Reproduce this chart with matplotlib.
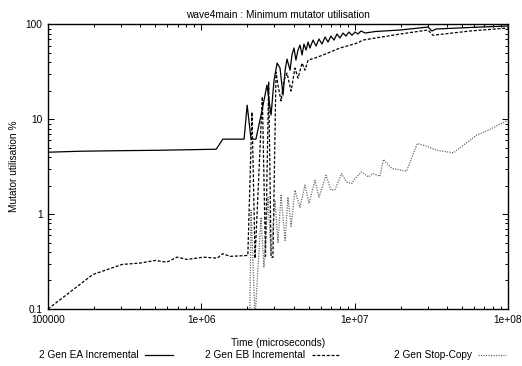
"""
wave4main minimum mutator utilisation, three collector configurations
"""

import matplotlib
matplotlib.use("Agg")
import matplotlib.pyplot as plt
from matplotlib.lines import Line2D
from matplotlib.ticker import LogLocator, FixedLocator, FixedFormatter, NullFormatter

FS = 7.3
plt.rcParams["font.family"] = ["Liberation Sans", "DejaVu Sans"]
plt.rcParams["font.size"] = FS

# time window (microseconds) -> minimum mutator utilisation (%)
ea_time = [1.0e5, 1.62e5, 2.95e5, 5.37e5, 1.25e6, 1.38e6, 1.90e6, 1.99e6, 2.11e6, 2.27e6,
           2.49e6, 2.68e6, 2.85e6, 2.98e6, 3.12e6, 3.26e6, 3.41e6, 3.52e6, 3.62e6, 3.79e6,
           3.90e6, 4.02e6, 4.14e6, 4.27e6, 4.40e6, 4.54e6, 4.67e6, 4.82e6, 4.97e6, 5.11e6,
           5.35e6, 5.60e6, 5.85e6, 6.12e6, 6.41e6, 6.70e6, 7.01e6, 7.33e6, 7.67e6, 8.02e6,
           8.39e6, 8.77e6, 9.18e6, 9.61e6, 1.005e7, 1.05e7, 1.10e7, 1.17e7, 1.36e7, 1.98e7,
           3.01e7, 3.19e7, 3.39e7, 5.65e7, 1.0e8]
ea_mmu = [4.50, 4.61, 4.67, 4.72, 4.84, 6.18, 6.18, 14.1, 6.18, 6.18,
          12.5, 23.0, 11.1, 25.9, 39.2, 34.7, 18.0, 33.0, 43.2, 33.0,
          47.6, 56.5, 42.2, 53.8, 60.7, 47.7, 62.2, 53.8, 65.3, 56.5,
          68.5, 59.3, 70.3, 62.2, 73.8, 65.3, 75.6, 68.5, 79.4, 72.0,
          81.3, 75.6, 83.3, 77.0, 83.3, 79.4, 85.4, 81.3, 84.3, 87.5,
          94.0, 85.4, 89.6, 93.0, 96.4]

eb_time = [1.0e5, 1.96e5, 3.04e5, 3.98e5, 4.99e5, 5.97e5, 6.94e5, 8.07e5, 1.03e6, 1.27e6,
           1.38e6, 1.54e6, 2.01e6, 2.14e6, 2.24e6, 2.50e6, 2.62e6, 2.75e6, 2.85e6, 2.93e6,
           3.07e6, 3.16e6, 3.31e6, 3.46e6, 3.62e6, 3.85e6, 4.08e6, 4.27e6, 4.54e6, 4.74e6,
           4.97e6, 5.51e6, 6.22e6, 8.02e6, 1.04e7, 1.13e7, 1.98e7, 3.01e7, 3.24e7, 5.65e7,
           1.0e8]
eb_mmu = [0.100, 0.231, 0.295, 0.305, 0.325, 0.312, 0.352, 0.333, 0.352, 0.344,
          0.383, 0.359, 0.367, 11.9, 0.342, 17.3, 0.36, 24.7, 0.35, 0.35,
          31.5, 23.0, 15.6, 25.9, 30.7, 19.9, 34.7, 27.2, 39.2, 33.0,
          42.2, 44.3, 47.7, 56.5, 63.8, 68.5, 79.4, 87.5, 77.0, 85.4,
          91.9]

sc_time = [2.07e6, 2.11e6, 2.24e6, 2.45e6, 2.56e6, 2.72e6, 2.85e6, 3.02e6, 3.16e6, 3.31e6,
           3.52e6, 3.67e6, 3.85e6, 4.08e6, 4.40e6, 4.74e6, 5.04e6, 5.51e6, 5.85e6, 6.50e6,
           7.01e6, 7.45e6, 8.22e6, 8.87e6, 9.57e6, 1.005e7, 1.11e7, 1.23e7, 1.32e7, 1.46e7,
           1.54e7, 1.75e7, 1.93e7, 2.18e7, 2.56e7, 2.95e7, 3.43e7, 4.40e7, 5.11e7, 6.25e7,
           7.45e7, 8.87e7, 1.0e8]
sc_mmu = [0.08, 1.10, 0.08, 0.927, 0.274, 1.51, 0.367, 1.40, 0.505, 1.58,
          0.53, 1.51, 0.744, 1.79, 1.18, 2.02, 1.30, 2.28, 1.51, 2.57,
          1.79, 1.82, 2.68, 2.18, 2.10, 2.37, 2.79, 2.47, 2.68, 2.51,
          3.77, 3.03, 2.95, 2.83, 5.56, 5.21, 4.72, 4.43, 5.33, 6.81,
          7.69, 8.89, 9.8]

labels = ["2 Gen EA Incremental", "2 Gen EB Incremental", "2 Gen Stop-Copy"]

fig = plt.figure(figsize=(5.22, 3.66), dpi=100)
ax = fig.add_axes([48/522, 57/366, 460/522, 284.5/366])

styles = [
    dict(color="black", lw=0.9, ls="-"),
    dict(color="black", lw=0.9, ls=(0, (2.4, 1.4))),
    dict(color="#5e5e5e", lw=0.9, ls=(0, (0.9, 1.1))),
]
series = [(ea_time, ea_mmu), (eb_time, eb_mmu), (sc_time, sc_mmu)]
for (t, v), st in zip(series, styles):
    ax.plot(t, v, **st)

ax.set_xscale("log")
ax.set_yscale("log")
ax.set_xlim(1e5, 1e8)
ax.set_ylim(0.1, 100)

ax.xaxis.set_major_locator(FixedLocator([1e5, 1e6, 1e7, 1e8]))
ax.xaxis.set_major_formatter(FixedFormatter(["100000", "1e+06", "1e+07", "1e+08"]))
ax.yaxis.set_major_locator(FixedLocator([0.1, 1, 10, 100]))
ax.yaxis.set_major_formatter(FixedFormatter(["0.1", "1", "10", "100"]))
for axis in (ax.xaxis, ax.yaxis):
    axis.set_minor_locator(LogLocator(base=10, subs=range(2, 10), numticks=20))
    axis.set_minor_formatter(NullFormatter())

ax.tick_params(which="both", direction="in", top=True, right=True, width=0.7, labelsize=FS, pad=4)
ax.tick_params(which="major", length=4)
ax.tick_params(which="minor", length=2.2)
for s in ax.spines.values():
    s.set_linewidth(1.0)

ax.set_title("wave4main : Minimum mutator utilisation", fontsize=FS, pad=5)
ax.set_xlabel("Time (microseconds)", fontsize=FS, labelpad=10)
ax.set_ylabel("Mutator utilisation %", fontsize=FS, labelpad=5)

# key along the bottom: text then line sample, one entry at a time
key_right = [173, 340, 506]
for lab, st, xr in zip(labels, styles, key_right):
    h = Line2D([], [], **st)
    fig.legend(handles=[h], labels=[lab], loc="center right",
               bbox_to_anchor=(xr/522, 10.5/366), frameon=False,
               markerfirst=False, handlelength=2.8, handletextpad=0.6,
               borderpad=0, borderaxespad=0, fontsize=FS)

fig.savefig("out.png", dpi=100)
